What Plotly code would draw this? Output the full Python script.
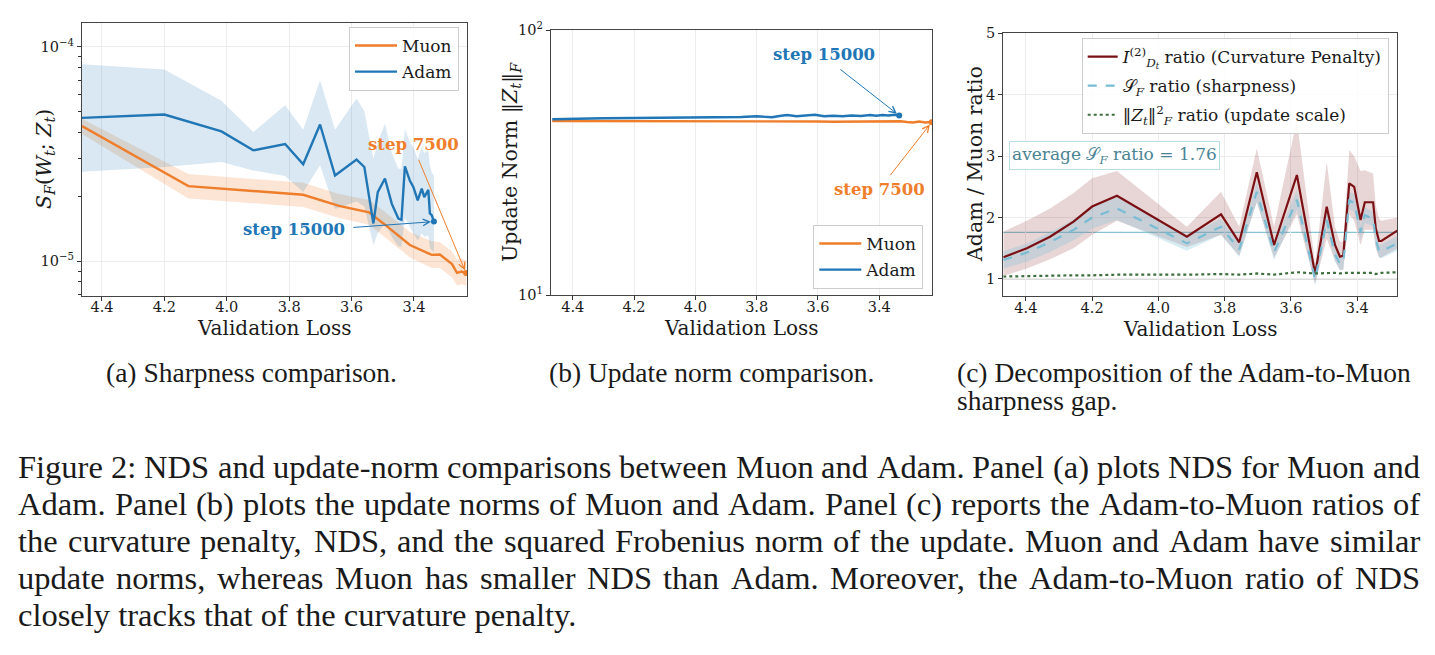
import math
import plotly.graph_objects as go

W, H = 1435, 655

# ---------------- data ----------------
x_ticks = [4.4, 4.2, 4.0, 3.8, 3.6, 3.4]
x_tick_text = ["4.4", "4.2", "4.0", "3.8", "3.6", "3.4"]

# Panel (a): sharpness S_F(W_t; Z_t) vs validation loss
muon_loss_a = [4.464, 4.123, 3.755, 3.640, 3.544, 3.498, 3.413, 3.343, 3.317, 3.278, 3.262, 3.248, 3.233]
muon_sf = [4.27e-5, 2.24e-5, 2.04e-5, 1.81e-5, 1.69e-5, 1.50e-5, 1.19e-5, 1.07e-5, 1.075e-5, 0.97e-5, 0.883e-5, 0.895e-5, 0.88e-5]
muon_sf_hi = [4.62e-5, 2.55e-5, 2.32e-5, 2.06e-5, 1.93e-5, 1.72e-5, 1.37e-5, 1.24e-5, 1.23e-5, 1.11e-5, 1.02e-5, 1.03e-5, 1.01e-5]
muon_sf_lo = [3.92e-5, 1.96e-5, 1.79e-5, 1.59e-5, 1.48e-5, 1.31e-5, 1.04e-5, 0.93e-5, 0.93e-5, 0.84e-5, 0.77e-5, 0.78e-5, 0.77e-5]

adam_loss_a = [4.464, 4.200, 4.017, 3.915, 3.813, 3.755, 3.701, 3.653, 3.584, 3.559, 3.530, 3.516, 3.493,
               3.471, 3.450, 3.440, 3.429, 3.413, 3.402, 3.388, 3.375, 3.367, 3.354, 3.349, 3.343, 3.336]
adam_sf = [4.66e-5, 4.83e-5, 4.03e-5, 3.29e-5, 3.52e-5, 2.83e-5, 4.34e-5, 2.51e-5, 2.98e-5, 2.75e-5, 1.50e-5, 2.10e-5, 2.43e-5,
           1.85e-5, 1.58e-5, 1.56e-5, 2.77e-5, 2.37e-5, 2.22e-5, 1.92e-5, 2.18e-5, 1.99e-5, 2.15e-5, 1.67e-5, 1.64e-5, 1.53e-5]
adam_sf_hi = [8.3e-5, 7.84e-5, 5.6e-5, 4.0e-5, 5.34e-5, 4.1e-5, 6.98e-5, 4.1e-5, 5.74e-5, 5.0e-5, 3.0e-5, 3.6e-5, 4.38e-5,
              3.2e-5, 2.7e-5, 2.7e-5, 4.1e-5, 3.6e-5, 3.4e-5, 3.0e-5, 3.4e-5, 3.2e-5, 3.3e-5, 2.8e-5, 2.6e-5, 2.5e-5]
adam_sf_lo = [2.61e-5, 2.75e-5, 2.9e-5, 2.65e-5, 2.5e-5, 2.1e-5, 2.8e-5, 1.75e-5, 1.9e-5, 1.8e-5, 1.19e-5, 1.35e-5, 1.5e-5,
              1.3e-5, 1.17e-5, 1.17e-5, 1.6e-5, 1.45e-5, 1.35e-5, 1.25e-5, 1.35e-5, 1.3e-5, 1.32e-5, 1.15e-5, 1.13e-5, 1.1e-5]

y_ticks_a = [1e-5, 1e-4]
y_tick_text_a = ["10<sup>\u22125</sup>", "10<sup>\u22124</sup>"]
y_minor_a = [7e-6, 8e-6, 9e-6, 2e-5, 3e-5, 4e-5, 5e-5, 6e-5, 7e-5, 8e-5, 9e-5]

# Panel (b): update norm ||Z_t||_F vs validation loss
muon_loss_b = [4.467, 4.40, 4.30, 4.20, 4.12, 4.00, 3.90, 3.80, 3.75, 3.70, 3.65, 3.60, 3.55, 3.50,
               3.45, 3.41, 3.38, 3.35, 3.33, 3.31, 3.29, 3.27, 3.25, 3.24, 3.229]
muon_norm = [45.4, 45.4, 45.3, 45.3, 45.3, 45.2, 45.3, 45.3, 45.3, 45.4, 45.2, 45.2, 45.1, 45.1,
             45.2, 45.1, 45.2, 45.1, 45.3, 45.0, 44.8, 45.2, 44.8, 44.9, 44.9]
adam_loss_b = [4.467, 4.40, 4.30, 4.20, 4.10, 4.00, 3.90, 3.85, 3.80, 3.75, 3.72, 3.70, 3.67, 3.64, 3.61,
               3.58, 3.55, 3.52, 3.49, 3.46, 3.43, 3.41, 3.39, 3.37, 3.35, 3.335]
adam_norm = [46.1, 46.3, 46.5, 46.6, 46.7, 46.7, 46.7, 47.0, 47.3, 46.9, 47.5, 47.8, 47.3, 47.5, 47.9,
             47.3, 47.5, 47.3, 47.6, 47.4, 47.8, 47.5, 47.8, 47.6, 47.9, 47.6]
y_ticks_b = [10, 100]
y_tick_text_b = ["10<sup>1</sup>", "10<sup>2</sup>"]

# Panel (c): Adam / Muon ratios
ratio_loss = [4.468, 4.397, 4.327, 4.256, 4.200, 4.125, 3.914, 3.811, 3.756, 3.703, 3.651, 3.582, 3.527,
              3.492, 3.467, 3.452, 3.442, 3.424, 3.409, 3.390, 3.377, 3.352, 3.344, 3.334, 3.327, 3.279]
curv_ratio = [1.353, 1.50, 1.689, 1.933, 2.18, 2.357, 1.689, 2.054, 1.598, 2.738, 1.554, 2.694, 1.081,
              2.178, 1.554, 1.363, 1.38, 2.558, 2.50, 1.96, 2.25, 2.25, 1.826, 1.619, 1.619, 1.787]
curv_hi = [1.77, 1.95, 2.15, 2.40, 2.64, 2.76, 1.85, 2.42, 1.85, 3.13, 1.85, 3.59, 1.25,
           2.91, 1.85, 1.60, 1.62, 3.10, 3.00, 2.76, 2.77, 2.72, 2.20, 1.98, 1.95, 2.00]
curv_lo = [1.05, 1.17, 1.32, 1.50, 1.72, 1.95, 1.52, 1.72, 1.38, 2.25, 1.35, 2.05, 0.92,
           1.65, 1.30, 1.15, 1.15, 2.05, 1.95, 1.55, 1.80, 1.80, 1.50, 1.35, 1.35, 1.50]
sharp_ratio = [1.31, 1.43, 1.60, 1.80, 2.00, 2.15, 1.58, 1.85, 1.48, 2.42, 1.43, 2.29, 0.99,
               1.96, 1.40, 1.25, 1.26, 2.28, 2.24, 1.76, 2.04, 1.98, 1.65, 1.45, 1.45, 1.58]
sharp_hi = [1.45, 1.58, 1.76, 1.97, 2.18, 2.33, 1.70, 1.98, 1.60, 2.58, 1.55, 2.45, 1.08,
            2.10, 1.52, 1.36, 1.37, 2.42, 2.38, 1.88, 2.17, 2.10, 1.77, 1.56, 1.56, 1.70]
sharp_lo = [1.17, 1.28, 1.44, 1.63, 1.82, 1.96, 1.46, 1.72, 1.36, 2.26, 1.31, 2.13, 0.90,
            1.82, 1.28, 1.14, 1.15, 2.14, 2.10, 1.64, 1.91, 1.86, 1.53, 1.34, 1.34, 1.46]
update_ratio = [1.04, 1.05, 1.05, 1.06, 1.06, 1.07, 1.07, 1.08, 1.07, 1.09, 1.07, 1.11, 1.09,
                1.10, 1.10, 1.09, 1.10, 1.10, 1.10, 1.09, 1.10, 1.10, 1.08, 1.09, 1.10, 1.11]
avg_sf_ratio = 1.76
y_ticks_c = [1, 2, 3, 4, 5]

caption_lines = [
    "Figure 2: NDS and update-norm comparisons between Muon and Adam. Panel (a) plots NDS for Muon and",
    "Adam. Panel (b) plots the update norms of Muon and Adam. Panel (c) reports the Adam-to-Muon ratios of",
    "the curvature penalty, NDS, and the squared Frobenius norm of the update. Muon and Adam have similar",
    "update norms, whereas Muon has smaller NDS than Adam. Moreover, the Adam-to-Muon ratio of NDS",
    "closely tracks that of the curvature penalty.",
]

# ---------------- style ----------------
ORANGE = "#ef7e2c"
BLUE = "#2176b5"
ORANGE_FILL = "rgba(240,126,40,0.20)"
BLUE_FILL = "rgba(31,119,180,0.17)"
MAROON = "#7a1014"
LBLUE = "#78bdd3"
GREEN = "#3d6e3d"
RED_FILL = "rgba(140,50,50,0.20)"
LB_FILL = "rgba(126,192,214,0.30)"
SERIF = "DejaVu Serif"
CAP_FONT = "Liberation Serif"
TXT = "#1a1a1a"

# Liberation Serif (Times-compatible) advance widths, 1/1000 em, used to justify the caption
_TW = {" ": 250, "(": 333, ")": 333, ",": 250, "-": 333, ".": 250, ":": 278, ";": 278,
       "A": 722, "B": 667, "C": 667, "D": 722, "E": 611, "F": 556, "G": 722, "H": 722, "I": 333,
       "J": 389, "K": 722, "L": 611, "M": 889, "N": 722, "O": 722, "P": 556, "Q": 722, "R": 667,
       "S": 556, "T": 611, "U": 722, "V": 722, "W": 944, "X": 722, "Y": 722, "Z": 611,
       "a": 444, "b": 500, "c": 444, "d": 500, "e": 444, "f": 333, "g": 500, "h": 500, "i": 278,
       "j": 278, "k": 500, "l": 278, "m": 778, "n": 500, "o": 500, "p": 500, "q": 500, "r": 333,
       "s": 389, "t": 278, "u": 500, "v": 500, "w": 722, "x": 500, "y": 500, "z": 444}


def word_width(word, size):
    return sum(_TW.get(c, 500) for c in word) * size / 1000.0


def px(x):
    return x / W


def py(y):
    return 1 - y / H


fig = go.Figure()


def band(xs, hi, lo, color, xa, ya):
    fig.add_trace(go.Scatter(x=list(xs) + list(xs)[::-1], y=list(hi) + list(lo)[::-1],
                             fill="toself", fillcolor=color, line=dict(width=0),
                             mode="lines", hoverinfo="skip", showlegend=False,
                             xaxis=xa, yaxis=ya))


# Panel (a)
band(muon_loss_a, muon_sf_hi, muon_sf_lo, ORANGE_FILL, "x", "y")
band(adam_loss_a, adam_sf_hi, adam_sf_lo, BLUE_FILL, "x", "y")
fig.add_trace(go.Scatter(x=muon_loss_a, y=muon_sf, mode="lines", name="Muon", legendgroup="a1",
                         line=dict(color=ORANGE, width=2.4), xaxis="x", yaxis="y", legend="legend"))
fig.add_trace(go.Scatter(x=adam_loss_a, y=adam_sf, mode="lines", name="Adam", legendgroup="a2",
                         line=dict(color=BLUE, width=2.4), xaxis="x", yaxis="y", legend="legend"))
fig.add_trace(go.Scatter(x=[muon_loss_a[-1]], y=[muon_sf[-1]], mode="markers", showlegend=False,
                         marker=dict(color=ORANGE, size=6), xaxis="x", yaxis="y"))
fig.add_trace(go.Scatter(x=[adam_loss_a[-1]], y=[adam_sf[-1]], mode="markers", showlegend=False,
                         marker=dict(color=BLUE, size=6), xaxis="x", yaxis="y"))

# Panel (b)
fig.add_trace(go.Scatter(x=muon_loss_b, y=muon_norm, mode="lines", name="Muon", legendgroup="b1",
                         line=dict(color=ORANGE, width=2.4), xaxis="x2", yaxis="y2", legend="legend2"))
fig.add_trace(go.Scatter(x=adam_loss_b, y=adam_norm, mode="lines", name="Adam", legendgroup="b2",
                         line=dict(color=BLUE, width=2.4), xaxis="x2", yaxis="y2", legend="legend2"))
fig.add_trace(go.Scatter(x=[muon_loss_b[-1]], y=[muon_norm[-1]], mode="markers", showlegend=False,
                         marker=dict(color=ORANGE, size=6), xaxis="x2", yaxis="y2"))
fig.add_trace(go.Scatter(x=[adam_loss_b[-1]], y=[adam_norm[-1]], mode="markers", showlegend=False,
                         marker=dict(color=BLUE, size=6), xaxis="x2", yaxis="y2"))

# Panel (c)
band(ratio_loss, curv_hi, curv_lo, RED_FILL, "x3", "y3")
band(ratio_loss, sharp_hi, sharp_lo, LB_FILL, "x3", "y3")
fig.add_trace(go.Scatter(x=ratio_loss, y=curv_ratio, mode="lines", legendgroup="c1",
                         name="<i>I</i><sup>(2)</sup><sub><i>D<sub>t</sub></i></sub> ratio (Curvature Penalty)",
                         line=dict(color=MAROON, width=2.2), xaxis="x3", yaxis="y3", legend="legend3"))
fig.add_trace(go.Scatter(x=ratio_loss, y=sharp_ratio, mode="lines", legendgroup="c2",
                         name="\U0001D4AE<sub><i>F</i></sub> ratio (sharpness)",
                         line=dict(color=LBLUE, width=2.2, dash="dash"), xaxis="x3", yaxis="y3", legend="legend3"))
fig.add_trace(go.Scatter(x=ratio_loss, y=update_ratio, mode="lines", legendgroup="c3",
                         name="\u2016<i>Z<sub>t</sub></i>\u2016<sup>2</sup><sub><i>F</i></sub> ratio (update scale)",
                         line=dict(color=GREEN, width=2.2, dash="dot"), xaxis="x3", yaxis="y3", legend="legend3"))

# Axes
tickfont = dict(family=SERIF, size=14.5, color=TXT)
common_x = dict(tickmode="array", tickvals=x_ticks, ticktext=x_tick_text, ticks="outside", ticklen=4,
                tickcolor="#333", tickfont=tickfont, showgrid=True, gridcolor="#ececec", gridwidth=1,
                zeroline=False, showline=True, linecolor="#444", linewidth=1.2, mirror=True,
                automargin=False, ticklabelstandoff=-6)
common_y = dict(ticks="outside", ticklen=4, tickcolor="#333", tickfont=tickfont, showgrid=True,
                gridcolor="#ececec", gridwidth=1, zeroline=False, showline=True, linecolor="#444",
                linewidth=1.2, mirror=True, automargin=False)

fig.update_layout(
    xaxis=dict(domain=[px(82), px(467)], range=[4.464, 3.230], anchor="y", **common_x),
    yaxis=dict(domain=[py(295.5), py(23)], type="log", range=[-5.160, -3.889], anchor="x",
               tickmode="array", tickvals=y_ticks_a, ticktext=y_tick_text_a,
               minor=dict(tickmode="array", tickvals=y_minor_a, ticks="outside", ticklen=2.5,
                          tickcolor="#333", showgrid=False), **common_y),
    xaxis2=dict(domain=[px(551), px(932)], range=[4.471, 3.228], anchor="y2", **common_x),
    yaxis2=dict(domain=[py(295.3), py(30)], type="log", range=[1, 2], anchor="x2",
                tickmode="array", tickvals=y_ticks_b, ticktext=y_tick_text_b, **common_y),
    xaxis3=dict(domain=[px(1003.3), px(1397.3)], range=[4.468, 3.279], anchor="y3", **common_x),
    yaxis3=dict(domain=[py(296), py(33.4)], range=[0.723, 5], anchor="x3",
                tickmode="array", tickvals=y_ticks_c, ticktext=[str(v) for v in y_ticks_c], **common_y),
)

legend_common = dict(bgcolor="rgba(255,255,255,0.85)", bordercolor="#cccccc", borderwidth=1,
                     font=dict(family=SERIF, size=17, color=TXT), traceorder="grouped")
fig.update_layout(
    legend=dict(x=px(349), y=py(27), xanchor="left", yanchor="top", tracegroupgap=1, itemwidth=42,
                **legend_common),
    legend2=dict(x=px(923.3), y=py(289), xanchor="right", yanchor="bottom", tracegroupgap=1, itemwidth=42,
                 **legend_common),
    legend3=dict(x=px(1388.7), y=py(38), xanchor="right", yanchor="top", tracegroupgap=4, **legend_common),
)

# Horizontal reference lines (panel c)
fig.add_shape(type="line", xref="x3 domain", yref="y3", x0=0, x1=1, y0=avg_sf_ratio, y1=avg_sf_ratio,
              line=dict(color="#86c4d5", width=1.3), layer="below")
fig.add_shape(type="line", xref="x3 domain", yref="y3", x0=0, x1=1, y0=1, y1=1,
              line=dict(color="#b5b5b5", width=1), layer="below")

ann = []


def text(x, y, s, size, color=TXT, family=SERIF, xanchor="center", yanchor="middle", angle=0, **kw):
    ann.append(dict(x=x, y=y, xref="paper", yref="paper", text=s, showarrow=False, xanchor=xanchor,
                    yanchor=yanchor, textangle=angle, font=dict(family=family, size=size, color=color), **kw))


# axis titles
text(px(274.5), py(328), "Validation Loss", 20)
text(px(741.5), py(328), "Validation Loss", 20)
text(px(1200.3), py(328.5), "Validation Loss", 20)
text(px(45), py(159), "<i>S<sub>F</sub></i>(<i>W<sub>t</sub></i>; <i>Z<sub>t</sub></i>)", 20.5, angle=-90)
text(px(511), py(162), "Update Norm \u2016<i>Z<sub>t</sub></i>\u2016<sub><i>F</i></sub>", 20.5, angle=-90)
text(px(975), py(164), "Adam / Muon ratio", 20.5, angle=-90)

# average box
text(px(1008.7), py(155.5), "average \U0001D4AE<sub><i>F</i></sub> ratio = %.2f" % avg_sf_ratio, 17,
     color="#4a8494", xanchor="left", bgcolor="white", bordercolor="#b8dde7", borderwidth=1, borderpad=2)

# step labels (panel a)
ann.append(dict(x=3.403, y=-4.455, xref="x", yref="y", text="<b>step 7500</b>", showarrow=False,
                font=dict(family=SERIF, size=16.5, color=ORANGE)))
ann.append(dict(x=3.785, y=-4.852, xref="x", yref="y", text="<b>step 15000</b>", showarrow=False,
                font=dict(family=SERIF, size=16.5, color=BLUE)))
ann.append(dict(x=muon_loss_a[-1], y=math.log10(muon_sf[-1]), xref="x", yref="y", ax=3.387, ay=-4.520,
                axref="x", ayref="y", text="", showarrow=True, arrowhead=5, arrowsize=1.3, arrowwidth=1,
                arrowcolor=ORANGE, standoff=3))
ann.append(dict(x=adam_loss_a[-1], y=math.log10(adam_sf[-1]), xref="x", yref="y", ax=3.599, ay=-4.843,
                axref="x", ayref="y", text="", showarrow=True, arrowhead=5, arrowsize=1.3, arrowwidth=1,
                arrowcolor=BLUE, standoff=3))
# step labels (panel b)
ann.append(dict(x=3.581, y=1.908, xref="x2", yref="y2", text="<b>step 15000</b>", showarrow=False,
                font=dict(family=SERIF, size=16.5, color=BLUE)))
ann.append(dict(x=3.400, y=1.3995, xref="x2", yref="y2", text="<b>step 7500</b>", showarrow=False,
                font=dict(family=SERIF, size=16.5, color=ORANGE)))
ann.append(dict(x=adam_loss_b[-1], y=math.log10(adam_norm[-1]), xref="x2", yref="y2", ax=3.532, ay=1.856,
                axref="x2", ayref="y2", text="", showarrow=True, arrowhead=5, arrowsize=1.3, arrowwidth=1,
                arrowcolor=BLUE, standoff=3))
ann.append(dict(x=muon_loss_b[-1], y=math.log10(muon_norm[-1]), xref="x2", yref="y2", ax=3.368, ay=1.447,
                axref="x2", ayref="y2", text="", showarrow=True, arrowhead=5, arrowsize=1.3, arrowwidth=1,
                arrowcolor=ORANGE, standoff=3))

# sub-captions
text(px(252), py(372), "(a) Sharpness comparison.", 27.5, family=CAP_FONT)
text(px(711), py(372), "(b) Update norm comparison.", 27.5, family=CAP_FONT)
text(px(955), py(372), "(c) Decomposition of the Adam-to-Muon", 27.5, family=CAP_FONT, xanchor="left")
text(px(955), py(400), "sharpness gap.", 27.5, family=CAP_FONT, xanchor="left")

# figure caption (justified lines, last line ragged)
CAP_SIZE = 32.5
CAP_LEFT, CAP_RIGHT = 16, 1418
for i, line in enumerate(caption_lines):
    ycap = py(467 + 37 * i)
    if i == len(caption_lines) - 1:
        text(px(CAP_LEFT), ycap, line, CAP_SIZE, family=CAP_FONT, xanchor="left")
        continue
    words = line.split(" ")
    widths = [word_width(w, CAP_SIZE) for w in words]
    gap = (CAP_RIGHT - CAP_LEFT - sum(widths)) / (len(words) - 1)
    xpos = CAP_LEFT
    for w, wd in zip(words, widths):
        text(px(xpos), ycap, w, CAP_SIZE, family=CAP_FONT, xanchor="left")
        xpos += wd + gap

fig.update_layout(annotations=ann, width=W, height=H, margin=dict(l=0, r=0, t=0, b=0, autoexpand=False),
                  paper_bgcolor="white", plot_bgcolor="white", showlegend=True)

fig.write_html("out.html")
